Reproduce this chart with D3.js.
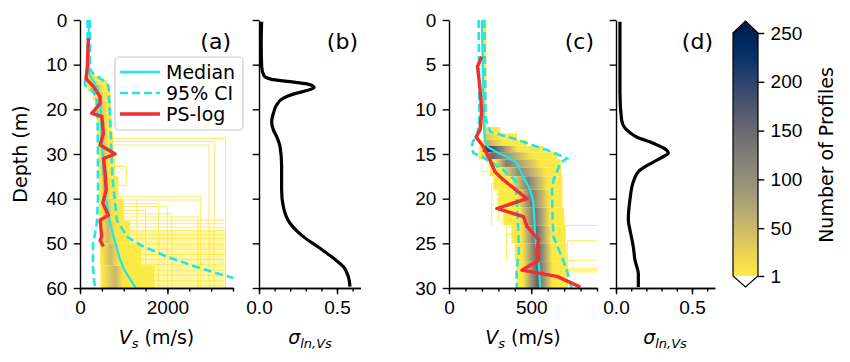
<!DOCTYPE html>
<html>
<head>
<meta charset="utf-8">
<script src="https://cdn.jsdelivr.net/npm/d3@7"></script>
<style>
  body { margin: 0; background: #fff; }
  svg { font-family: "DejaVu Sans", sans-serif; }
</style>
</head>
<body>
<svg id="chart" width="850" height="362"></svg>
<script>
// ---- panel (a): 0-60 m profile ----
// density rows: [depthTop, depthBot, lo, coreLo, peak, coreHi, hi, peakCount]
const densA = [
  [11.5, 12.5, 180, 200, 220, 260, 320, 15],
  [12.5, 13.5, 160, 200, 260, 350, 480, 25],
  [13.5, 14.5, 150, 220, 300, 420, 620, 40],
  [14.5, 16, 170, 300, 380, 520, 680, 50],
  [16, 18, 300, 380, 450, 560, 700, 50],
  [18, 21, 340, 420, 480, 600, 710, 50],
  [21, 25, 380, 440, 500, 620, 720, 50],
  [25, 30, 400, 450, 520, 640, 760, 50],
  [30, 35, 420, 460, 540, 660, 800, 50],
  [35, 40, 430, 470, 560, 700, 880, 45],
  [40, 45, 440, 480, 600, 760, 1000, 45],
  [45, 50, 450, 490, 640, 820, 1150, 50],
  [50, 55, 460, 500, 700, 900, 1400, 50],
  [55, 60, 470, 520, 800, 1000, 1700, 55]
];
// sparse single-profile band: [depthTop, depthBot, v0, v1]
const sparseA = [[47, 60, 1100, 3330]];
// single profiles: horizontal [depth, v0, v1], vertical [v, d0, d1]
const hLinesA = [
  [23.3, 700, 1050], [26.5, 720, 3330], [27.2, 720, 3070], [28.0, 720, 2950],
  [32.8, 740, 1060], [37.0, 800, 1060], [39.6, 850, 2760], [40.3, 880, 2760],
  [41.1, 900, 1800], [41.8, 900, 2000], [42.6, 920, 1500], [43.4, 940, 2100],
  [44.1, 950, 2700], [44.8, 950, 3300], [45.6, 1000, 3300], [46.4, 1000, 3300],
  [47.2, 1050, 3300], [48.1, 1050, 3300], [49.0, 1050, 3300], [50.2, 1100, 3300],
  [51.3, 1100, 3300], [52.5, 1100, 3300], [53.6, 1100, 3300], [54.8, 1100, 3300],
  [56.0, 1100, 3300], [57.1, 1100, 3300], [58.3, 1100, 3300], [59.4, 1100, 3300]
];
const vLinesA = [
  [3330, 26.5, 60], [3070, 27.2, 60], [2950, 28.0, 60], [2760, 39.6, 60],
  [1060, 32.8, 37.0], [2000, 41.8, 60], [1800, 41.1, 60], [1500, 42.6, 60],
  [2100, 43.4, 60], [2700, 44.1, 60], [1300, 40.3, 60]
];
const medDepthA = [0, 10, 12, 13, 14, 15, 17, 20, 25, 30, 35, 40, 41, 45, 48.5, 50, 53.7, 56, 59.3, 60];
const medVsA = [200, 200, 210, 260, 330, 390, 440, 470, 490, 520, 545, 580, 613, 680, 766, 810, 920, 1020, 1226, 1280];
const ciLoDepthA = [0, 11, 12.5, 13.5, 14.6, 15.5, 17, 20, 30, 40, 45, 48, 50, 55, 58, 60];
const ciLoVsA = [175, 175, 150, 110, 115, 250, 370, 400, 410, 410, 390, 340, 300, 295, 320, 345];
const ciHiDepthA = [0, 11, 12, 13, 14, 14.9, 17, 20, 25, 30, 35, 40, 44.8, 48.5, 50.4, 53, 55.6, 57.8, 58.3];
const ciHiVsA = [225, 230, 300, 450, 600, 655, 660, 680, 700, 720, 740, 790, 843, 1073, 1380, 1992, 2760, 3520, 3650];
const psDepthA = [4.1, 10.4, 13.1, 14.9, 17.2, 18.7, 20.9, 21.6, 25.4, 28, 30, 31, 34.3, 38, 41, 43.7, 44.8, 48.5, 49.3, 50.7];
const psVsA = [191, 168, 138, 307, 460, 460, 268, 498, 536, 460, 805, 536, 575, 600, 521, 651, 460, 498, 460, 536];
const sigDepthB = [0.4, 5, 10.45, 12.5, 13.3, 13.8, 14.3, 15.1, 15.8, 16.6, 17.5, 19.0, 20.9, 22.8, 24.6, 26.1, 28.4, 32.8, 38.1, 41.8, 45.5, 48.5, 51.1, 53.3, 55.2, 57.5, 59.7];
const sigmaB = [0.017, 0.014, 0.017, 0.032, 0.081, 0.199, 0.306, 0.353, 0.306, 0.22, 0.156, 0.113, 0.092, 0.081, 0.092, 0.113, 0.135, 0.145, 0.145, 0.156, 0.199, 0.284, 0.391, 0.476, 0.54, 0.573, 0.583];

// ---- panel (c): 0-30 m profile ----
const densC = [
  [0, 12, 200, 207, 214, 220, 228, 4],
  [12, 12.7, 205, 215, 230, 260, 311, 20],
  [12.7, 13.4, 205, 215, 230, 300, 413, 35],
  [13.4, 14.1, 195, 210, 225, 330, 474, 70],
  [14.1, 14.8, 185, 200, 215, 420, 575, 230],
  [14.8, 15.6, 180, 210, 260, 500, 657, 150],
  [15.6, 16.5, 240, 280, 350, 560, 680, 120],
  [16.5, 17.5, 250, 320, 430, 590, 685, 110],
  [17.5, 19, 270, 380, 480, 600, 690, 120],
  [19, 21, 300, 420, 500, 610, 690, 130],
  [21, 23, 330, 430, 520, 615, 700, 140],
  [23, 25, 380, 440, 530, 620, 710, 150],
  [25, 27, 400, 445, 540, 625, 715, 160],
  [27, 30, 410, 450, 540, 630, 720, 160]
];
const hLinesC = [
  [17.0, 200, 300], [18.3, 260, 330], [19.5, 280, 360], [20.5, 290, 430],
  [21.4, 300, 430], [22.4, 300, 440], [23.2, 350, 420], [24.0, 350, 430],
  [23.0, 700, 900], [24.7, 720, 900], [26.9, 720, 900], [27.8, 720, 900],
  [28.0, 720, 900], [28.2, 720, 900]
];
const vLinesC = [
  [200, 16.0, 17.0], [300, 17.0, 22.4], [260, 18.3, 23.0], [350, 23.2, 27.0],
  [700, 22.0, 24.7], [720, 24.7, 30]
];
const medDepthC = [0, 5, 10, 11.2, 13.4, 14.2, 14.9, 15.3, 16, 17.5, 19, 20.5, 24.3, 26.9, 30];
const medVsC = [200, 205, 210, 212, 219, 235, 300, 352, 413, 450, 494, 514, 524, 545, 555];
const ciLoDepthC = [0, 11, 13, 13.6, 14.2, 14.9, 15.3, 16, 16.8, 18, 20.5, 24.3, 26, 28, 30];
const ciLoVsC = [180, 185, 170, 145, 138, 148, 200, 260, 330, 405, 413, 423, 425, 410, 413];
const ciHiDepthC = [0, 11, 12.5, 13.4, 14.7, 15.5, 16, 17.9, 19, 22.4, 24.3, 26.1, 28, 30];
const ciHiVsC = [215, 222, 250, 413, 616, 717, 677, 636, 626, 630, 636, 677, 717, 745];
const psDepthC = [4.1, 5.2, 7, 10.1, 12.3, 13.1, 14.2, 15.7, 17, 17.9, 20, 21.1, 22, 23.1, 24.6, 25.7, 26.9, 28, 28.7, 29.9];
const psVsC = [199, 173, 185, 199, 189, 165, 209, 250, 280, 331, 474, 291, 453, 474, 545, 535, 545, 443, 656, 799];
const sigDepthD = [0.2, 8.2, 11.2, 12.1, 12.6, 13.1, 13.8, 14.4, 14.9, 15.4, 15.9, 16.8, 18.1, 20.1, 22.4, 23.5, 25.4, 26.9, 28.4, 29.9];
const sigmaD = [0.026, 0.026, 0.037, 0.059, 0.09, 0.136, 0.245, 0.32, 0.344, 0.3, 0.245, 0.158, 0.114, 0.092, 0.081, 0.092, 0.114, 0.125, 0.147, 0.147];

const cbTicks = [1, 50, 100, 150, 200, 250];
const legendItems = ['Median', '95% CI', 'PS-log'];

// ---- drawing ----
const FS = 19, TICK = 6.3, MINOR = 3.6, PAD = 6.3;
const CYAN = '#22e6e6', RED = '#ee3030';
const svg = d3.select('#chart');
const defs = svg.append('defs');
const countColor = n => d3.interpolateCividis(1 - (Math.min(n, 250) - 1) / 249);
const pairs = (a, b) => a.map((d, i) => [d, b[i]]);

function styleAxis(g) {
  g.selectAll('path.domain').attr('stroke', '#000').attr('stroke-width', 1.4);
  g.selectAll('.tick line').attr('stroke', '#000').attr('stroke-width', 1.4);
  g.selectAll('.tick text').attr('font-size', FS).attr('fill', '#000');
}

function frame(key, xr, xDom, yMax, xMajor, xMinor, yTicks, showY, xFmt) {
  const x = d3.scaleLinear().domain(xDom).range(xr);
  const y = d3.scaleLinear().domain([0, yMax]).range([20, 288]);
  defs.append('clipPath').attr('id', 'clip-' + key)
    .append('rect').attr('x', xr[0]).attr('y', 20).attr('width', xr[1] - xr[0]).attr('height', 268);
  const g = svg.append('g');
  const plot = g.append('g').attr('clip-path', `url(#clip-${key})`);
  // axes
  g.append('g').attr('transform', 'translate(0,288)')
    .call(d3.axisBottom(x).tickValues(xMinor).tickSize(MINOR).tickSizeOuter(0).tickFormat(''))
    .call(styleAxis);
  g.append('g').attr('transform', 'translate(0,288)')
    .call(d3.axisBottom(x).tickValues(xMajor).tickSize(TICK).tickPadding(PAD).tickSizeOuter(0).tickFormat(xFmt))
    .call(styleAxis);
  g.append('g').attr('transform', `translate(${xr[0]},0)`)
    .call(d3.axisLeft(y).tickValues(yTicks).tickSize(TICK).tickPadding(PAD).tickSizeOuter(0)
      .tickFormat(showY ? d3.format('d') : ''))
    .call(styleAxis);
  return { x, y, g, plot };
}

function densityPanel(key, p, rows, sparse, hLines, vLines) {
  rows.forEach((r, i) => {
    const [d0, d1, lo, cLo, pk, cHi, hi, n] = r;
    const id = `grad-${key}-${i}`;
    const gr = defs.append('linearGradient').attr('id', id)
      .attr('gradientUnits', 'userSpaceOnUse')
      .attr('x1', p.x(lo)).attr('x2', p.x(hi)).attr('y1', 0).attr('y2', 0);
    const stops = [[lo, 1], [cLo, 4], [(cLo + pk) / 2, (4 + n) / 2], [pk, n],
                   [(pk + cHi) / 2, (4 + n) / 2], [cHi, 4], [hi, 1]];
    stops.forEach(([v, c]) => gr.append('stop')
      .attr('offset', (v - lo) / (hi - lo)).attr('stop-color', countColor(c)));
    p.plot.append('rect')
      .attr('x', p.x(lo)).attr('width', p.x(hi) - p.x(lo))
      .attr('y', p.y(d0)).attr('height', p.y(d1) - p.y(d0))
      .attr('fill', `url(#${id})`);
  });
  p.plot.selectAll(null).data(sparse).join('rect')
    .attr('x', d => p.x(d[2])).attr('width', d => p.x(d[3]) - p.x(d[2]))
    .attr('y', d => p.y(d[0])).attr('height', d => p.y(d[1]) - p.y(d[0]))
    .attr('fill', countColor(1)).attr('opacity', 0.45);
  p.plot.selectAll(null).data(hLines).join('line')
    .attr('x1', d => p.x(d[1])).attr('x2', d => p.x(d[2]))
    .attr('y1', d => p.y(d[0])).attr('y2', d => p.y(d[0]))
    .attr('stroke', countColor(1)).attr('stroke-width', 0.9);
  p.plot.selectAll(null).data(vLines).join('line')
    .attr('x1', d => p.x(d[0])).attr('x2', d => p.x(d[0]))
    .attr('y1', d => p.y(d[1])).attr('y2', d => p.y(d[2]))
    .attr('stroke', countColor(1)).attr('stroke-width', 0.9);
}

function profileLines(p, med, ciLo, ciHi, ps) {
  const line = d3.line().x(d => p.x(d[1])).y(d => p.y(d[0]));
  [ciLo, ciHi].forEach(ci => p.plot.append('path').datum(ci).attr('d', line)
    .attr('fill', 'none').attr('stroke', CYAN).attr('stroke-width', 2.6).attr('stroke-dasharray', '8,4'));
  p.plot.append('path').datum(med).attr('d', line)
    .attr('fill', 'none').attr('stroke', CYAN).attr('stroke-width', 2.2);
  p.plot.append('path').datum(ps).attr('d', line)
    .attr('fill', 'none').attr('stroke', RED).attr('stroke-width', 3.4).attr('stroke-linejoin', 'round');
}

function sigmaLine(p, pts) {
  const line = d3.line().x(d => p.x(d[1])).y(d => p.y(d[0])).curve(d3.curveMonotoneY);
  p.plot.append('path').datum(pts).attr('d', line)
    .attr('fill', 'none').attr('stroke', '#000').attr('stroke-width', 3.2);
}

// panel letters are set a little larger than tick labels
function panelLabel(x, txt) {
  svg.append('text').attr('x', x).attr('y', 49).attr('text-anchor', 'end')
    .attr('font-size', 22).text(txt);
}

function vsLabel(cx) {
  const t = svg.append('text').attr('x', cx).attr('y', 344).attr('text-anchor', 'middle').attr('font-size', FS);
  t.append('tspan').attr('font-style', 'italic').text('V');
  t.append('tspan').attr('font-style', 'italic').attr('font-size', 13).attr('dy', 4).text('s');
  t.append('tspan').attr('dy', -4).text(' (m/s)');
}

function sigmaLabel(cx) {
  const t = svg.append('text').attr('x', cx).attr('y', 344).attr('text-anchor', 'middle').attr('font-size', FS);
  t.append('tspan').attr('font-style', 'italic').text('σ');
  t.append('tspan').attr('font-style', 'italic').attr('font-size', 13).attr('dy', 4).text('ln,Vs');
}

const sigMinor = [0, 0.1, 0.2, 0.3, 0.4, 0.5, 0.6];
const sigFmt = d3.format('.1f');

// (a)
const pA = frame('a', [80, 233], [0, 3500], 60, [0, 2000], d3.range(0, 3501, 500), d3.range(0, 61, 10), true, d3.format('d'));
densityPanel('a', pA, densA, sparseA, hLinesA, vLinesA);
profileLines(pA, pairs(medDepthA, medVsA), pairs(ciLoDepthA, ciLoVsA), pairs(ciHiDepthA, ciHiVsA), pairs(psDepthA, psVsA));
panelLabel(231, '(a)');
vsLabel(156.5);

// legend
const lg = svg.append('g');
lg.append('rect').attr('x', 115).attr('y', 57).attr('width', 128).attr('height', 73).attr('rx', 4)
  .attr('fill', '#fff').attr('fill-opacity', 0.8).attr('stroke', '#ccc').attr('stroke-width', 1.2);
legendItems.forEach((name, i) => {
  const yy = 72 + i * 21;
  lg.append('line').attr('x1', 120).attr('x2', 160).attr('y1', yy).attr('y2', yy)
    .attr('stroke', i === 2 ? RED : CYAN).attr('stroke-width', i === 2 ? 3.4 : 2.6)
    .attr('stroke-dasharray', i === 1 ? '8,4' : null);
  lg.append('text').attr('x', 166).attr('y', yy + 7).attr('font-size', FS).text(name);
});

// (b)
const pB = frame('b', [259, 360.4], [0, 0.65], 60, [0, 0.5], sigMinor, d3.range(0, 61, 10), false, sigFmt);
sigmaLine(pB, pairs(sigDepthB, sigmaB));
panelLabel(358, '(b)');
sigmaLabel(310);

// (c)
const pC = frame('c', [449, 597], [0, 900], 30, [0, 500], d3.range(0, 901, 100), d3.range(0, 31, 5), true, d3.format('d'));
densityPanel('c', pC, densC, [], hLinesC, vLinesC);
profileLines(pC, pairs(medDepthC, medVsC), pairs(ciLoDepthC, ciLoVsC), pairs(ciHiDepthC, ciHiVsC), pairs(psDepthC, psVsC));
panelLabel(594, '(c)');
vsLabel(523);

// (d)
const pD = frame('d', [616, 714.8], [0, 0.65], 30, [0, 0.5], sigMinor, d3.range(0, 31, 5), false, sigFmt);
sigmaLine(pD, pairs(sigDepthD, sigmaD));
panelLabel(713, '(d)');
sigmaLabel(665);

// Depth label
svg.append('text').attr('transform', 'translate(27,154) rotate(-90)').attr('text-anchor', 'middle')
  .attr('font-size', FS).text('Depth (m)');

// colorbar
const cbY = d3.scaleLinear().domain([1, 250]).range([276, 33]);
const cbX0 = 733, cbX1 = 758, cbMid = (cbX0 + cbX1) / 2;
const cbg = defs.append('linearGradient').attr('id', 'cb-grad').attr('x1', 0).attr('x2', 0).attr('y1', 1).attr('y2', 0);
d3.range(0, 1.0001, 0.05).forEach(t => cbg.append('stop').attr('offset', t).attr('stop-color', countColor(1 + t * 249)));
svg.append('rect').attr('x', cbX0).attr('y', cbY(250)).attr('width', cbX1 - cbX0).attr('height', cbY(1) - cbY(250))
  .attr('fill', 'url(#cb-grad)');
svg.append('path').attr('d', `M${cbX0},${cbY(250)}L${cbMid},${cbY(250) - 12}L${cbX1},${cbY(250)}Z`)
  .attr('fill', countColor(250));
svg.append('path').attr('d', `M${cbX0},${cbY(1)}L${cbMid},${cbY(1) + 11}L${cbX1},${cbY(1)}Z`)
  .attr('fill', '#fff');
svg.append('path')
  .attr('d', `M${cbX0},${cbY(250)}L${cbMid},${cbY(250) - 12}L${cbX1},${cbY(250)}L${cbX1},${cbY(1)}L${cbMid},${cbY(1) + 11}L${cbX0},${cbY(1)}Z`)
  .attr('fill', 'none').attr('stroke', '#000').attr('stroke-width', 1.2);
svg.append('g').attr('transform', `translate(${cbX1},0)`)
  .call(d3.axisRight(cbY).tickValues(cbTicks).tickSize(TICK).tickPadding(PAD).tickSizeOuter(0))
  .call(g => g.select('path.domain').remove())
  .call(styleAxis);
svg.append('text').attr('transform', 'translate(833,155) rotate(-90)').attr('text-anchor', 'middle')
  .attr('font-size', FS).text('Number of Profiles');
</script>
</body>
</html>
